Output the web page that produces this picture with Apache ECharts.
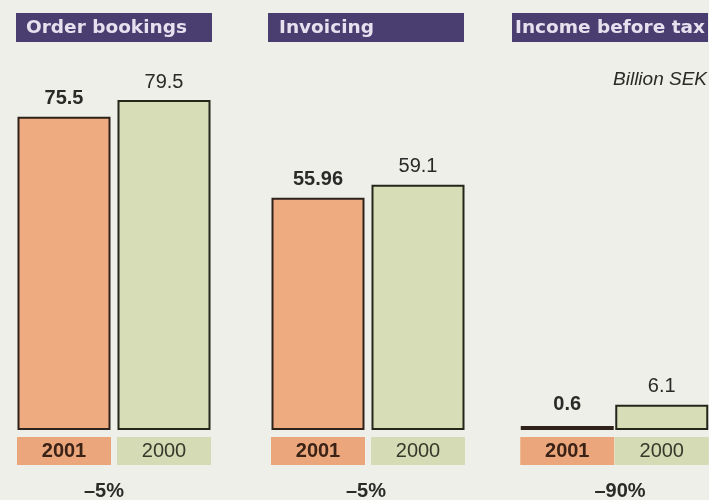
<!DOCTYPE html>
<html>
<head>
<meta charset="utf-8">
<script src="https://cdn.jsdelivr.net/npm/echarts@6/dist/echarts.min.js"></script>
<style>
  html, body { margin: 0; padding: 0; background: #edefe8; }
  #chartBox { width: 709px; height: 500px; }
</style>
</head>
<body>
<div id="chartBox"></div>
<script>
// data (billion SEK)
const years = ['2001', '2000']
const orderBookings = [75.5, 79.5]
const invoicing = [55.96, 59.1]
const incomeBeforeTax = [0.6, 6.1]
const panelTitles = ['Order bookings', 'Invoicing', 'Income before tax']
const changes = ['–5%', '–5%', '–90%']
const unitNote = 'Billion SEK'

const panels = [orderBookings, invoicing, incomeBeforeTax]
const gridLefts = [14, 268, 520]
const titleLefts = [16, 268, 512]
const titlePads = [10, 11, 3]
const changeX = [104, 366, 620]

const barColors = ['#eeab80', '#d6ddb7']
const boxColors = ['#eca67b', '#d4dbb5']
const textFont = '"Liberation Sans", Arial, sans-serif'

let myChart = echarts.init(document.getElementById('chartBox'))

let grids = []
let xAxes = []
let yAxes = []
let series = []
let graphics = []

panels.forEach((values, p) => {
  grids.push({ left: gridLefts[p], width: 200, top: 15, bottom: 70 })
  xAxes.push({
    type: 'category',
    gridIndex: p,
    data: years,
    axisLine: { show: false },
    axisTick: { show: false },
    axisLabel: {
      interval: 0,
      margin: 7,
      formatter: v => v === years[0] ? '{a|' + v + '}' : '{b|' + v + '}',
      rich: {
        a: {
          width: 94, height: 28, lineHeight: 28, align: 'center',
          backgroundColor: boxColors[0], color: '#3a2216',
          fontWeight: 'bold', fontSize: 20, fontFamily: textFont
        },
        b: {
          width: 94, height: 28, lineHeight: 28, align: 'center',
          backgroundColor: boxColors[1], color: '#38392a',
          fontSize: 20, fontFamily: textFont
        }
      }
    }
  })
  yAxes.push({
    type: 'value',
    gridIndex: p,
    min: 0,
    max: 100,
    show: false,
    splitLine: { show: false }
  })
  series.push({
    type: 'bar',
    xAxisIndex: p,
    yAxisIndex: p,
    barWidth: 93,
    barMinHeight: 4,
    silent: true,
    data: values.map((v, i) => ({
      value: v,
      itemStyle: {
        // a near-zero bar shows up as a black rule in the original
        color: v < 1 ? '#1c1a18' : barColors[i],
        borderColor: i === 0 ? '#2e221a' : '#24261a',
        borderWidth: 2
      },
      label: {
        fontWeight: i === 0 ? 'bold' : 'normal',
        distance: v < 1 ? 12 : 8
      }
    })),
    label: {
      show: true,
      position: 'top',
      distance: 8,
      fontSize: 20,
      color: '#2a2a28',
      fontFamily: textFont
    }
  })

  // panel header box
  graphics.push({
    type: 'rect',
    shape: { x: titleLefts[p], y: 13, width: 196, height: 29 },
    style: { fill: '#4a3e71' }
  })
  graphics.push({
    type: 'text',
    x: titleLefts[p] + titlePads[p],
    y: 28,
    style: {
      text: panelTitles[p],
      font: 'bold 18.5px "DejaVu Sans", sans-serif',
      fill: '#e6e1ee',
      align: 'left',
      verticalAlign: 'middle'
    }
  })
  // change vs last year
  graphics.push({
    type: 'text',
    x: changeX[p],
    y: 491,
    style: {
      text: changes[p],
      font: 'bold 20px ' + textFont,
      fill: '#2a2a28',
      align: 'center',
      verticalAlign: 'middle'
    }
  })
})

graphics.push({
  type: 'text',
  x: 707,
  y: 80,
  style: {
    text: unitNote,
    font: 'italic 19px ' + textFont,
    fill: '#2a2a28',
    align: 'right',
    verticalAlign: 'middle'
  }
})

myChart.setOption({
  backgroundColor: '#edefe8',
  animation: false,
  grid: grids,
  xAxis: xAxes,
  yAxis: yAxes,
  series: series,
  graphic: graphics
})
</script>
</body>
</html>
